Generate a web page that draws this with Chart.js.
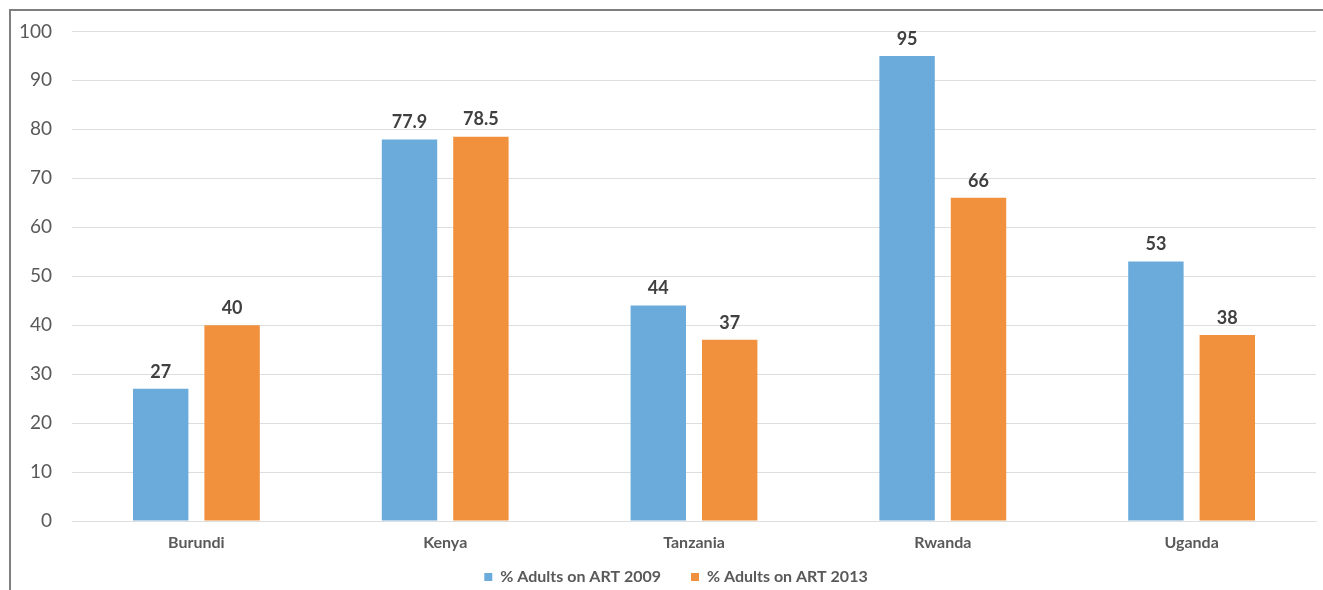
<!DOCTYPE html>
<html>
<head>
<meta charset="utf-8">
<script src="https://cdn.jsdelivr.net/npm/chart.js@4.4.1/dist/chart.umd.min.js"></script>
<style>
  html, body { margin: 0; padding: 0; background: #ffffff; }
  #wrap { position: relative; width: 1323px; height: 590px; overflow: hidden; }
  #frame { position: absolute; left: 9px; top: 9px; width: 1400px; height: 700px;
           border-left: 2px solid #7f7f7f; border-top: 2px solid #7f7f7f; }
  canvas { position: absolute; left: 0; top: 0; }
</style>
</head>
<body>
<div id="wrap">
  <div id="frame"></div>
  <canvas id="c" width="1323" height="590"></canvas>
</div>
<script>
const categories = ["Burundi", "Kenya", "Tanzania", "Rwanda", "Uganda"];
const seriesNames = ["% Adults on ART 2009", "% Adults on ART 2013"];
const values2009 = [27, 77.9, 44, 95, 53];
const values2013 = [40, 78.5, 37, 66, 38];
const yTicks = [0, 10, 20, 30, 40, 50, 60, 70, 80, 90, 100];

const FONT = "Lato, 'Open Sans', sans-serif";

const dataLabels = {
  id: 'dataLabels',
  afterLayout(chart) {
    const lg = chart.legend;
    if (lg) {
      lg.left += 18; lg.right += 18;
      lg.top -= 18; lg.bottom -= 18;
    }
  },
  afterDatasetsDraw(chart) {
    const ctx = chart.ctx;
    ctx.save();
    ctx.font = "bold 18px " + FONT;
    ctx.fillStyle = "#404040";
    ctx.textAlign = "center";
    ctx.textBaseline = "bottom";
    chart.data.datasets.forEach((ds, i) => {
      chart.getDatasetMeta(i).data.forEach((bar, j) => {
        ctx.fillText(String(ds.data[j]), bar.x, bar.y - 8);
      });
    });
    ctx.restore();
  }
};

new Chart(document.getElementById('c'), {
  type: 'bar',
  data: {
    labels: categories,
    datasets: [
      { label: seriesNames[0], data: values2009, backgroundColor: '#6aabdb',
        categoryPercentage: 0.574, barPercentage: 0.776 },
      { label: seriesNames[1], data: values2013, backgroundColor: '#f2913d',
        categoryPercentage: 0.574, barPercentage: 0.776 }
    ]
  },
  options: {
    responsive: false,
    animation: false,
    devicePixelRatio: 1,
    layout: { padding: { left: 0, right: 7, top: 31, bottom: -23 } },
    scales: {
      y: {
        min: 0, max: 100,
        afterBuildTicks(axis) { axis.ticks = yTicks.map(v => ({ value: v })); },
        afterFit(axis) { axis.width = 72; },
        grid: { color: '#dedede', lineWidth: 1, drawTicks: false },
        border: { display: false },
        ticks: { padding: 20, color: '#595959', font: { family: FONT, size: 19 } }
      },
      x: {
        afterFit(axis) { axis.height = 36; },
        grid: { display: false, drawTicks: false },
        border: { display: true, color: '#dedede', width: 1 },
        ticks: { autoSkip: false, maxRotation: 0, minRotation: 0, padding: 12, color: '#595959',
                 font: { family: FONT, size: 16, weight: 'bold' } }
      }
    },
    plugins: {
      legend: {
        position: 'bottom',
        labels: {
          boxWidth: 8, boxHeight: 8, padding: 30,
          color: '#595959',
          font: { family: FONT, size: 16, weight: 'bold' }
        }
      },
      tooltip: { enabled: false }
    }
  },
  plugins: [dataLabels]
});
</script>
</body>
</html>
